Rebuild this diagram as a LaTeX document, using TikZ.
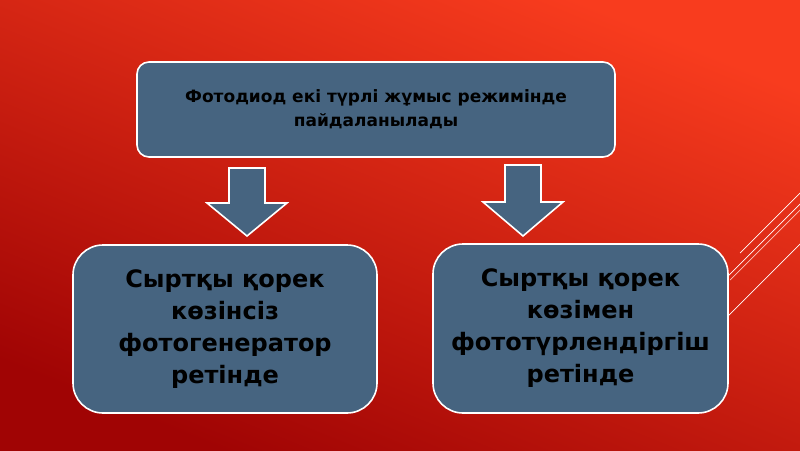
\documentclass[tikz,border=0pt]{standalone}
\usepackage{fontspec}
\setmainfont{DejaVu Sans}
\definecolor{boxblue}{RGB}{70,100,128}
\definecolor{bgtop}{RGB}{248,60,30}
\definecolor{bgmid}{RGB}{218,34,20}
\definecolor{bgbot}{RGB}{160,4,4}
\newcommand{\downblock}[4]{% x, top, shoulder, tip
  \draw[arrowblock] (#1-18,#2)--(#1+18,#2)--(#1+18,#3)--(#1+40,#3)
    --(#1,#4)--(#1-40,#3)--(#1-18,#3)--cycle;}
\begin{document}
\begin{tikzpicture}[x=1pt,y=-1pt,line width=1.6pt,line join=round,
  box/.style={draw=white,fill=boxblue,align=center,text=black,inner sep=0pt},
  arrowblock/.style={draw=white,fill=boxblue,line width=1.6pt,line join=miter},
  slice/.style={draw=white,line width=.7pt}]
  \useasboundingbox (0,0) rectangle (800,450);
  \shade[bottom color=bgbot,middle color=bgmid,top color=bgtop,shading angle=-22]
    (0,0) rectangle (800,450);
  % slice lines at the right edge
  \draw[slice] (740,253)--(806,187);
  \draw[slice] (728,276)--(806,198);
  \draw[slice,draw=white!70!bgtop] (730,280)--(806,204);
  \draw[slice] (728,316)--(806,238);
  \node[box,minimum width=478,minimum height=95,rounded corners=12,
    font=\bfseries\fontsize{17}{24}\selectfont] (top) at (376,109.5)
    {Фотодиод екі түрлі жұмыс режимінде\\пайдаланылады};
  \node[box,minimum width=304,minimum height=168,rounded corners=30,
    font=\bfseries\fontsize{24}{32}\selectfont] (left) at (225,329)
    {Сыртқы қорек\\көзінсіз\\фотогенератор\\ретінде};
  \node[box,minimum width=295,minimum height=169,rounded corners=30,
    font=\bfseries\fontsize{24}{32}\selectfont] (right) at (580.5,328.5)
    {Сыртқы қорек\\көзімен\\фототүрлендіргіш\\ретінде};
  \downblock{247}{168}{203}{236}
  \downblock{523}{165}{202}{236}
\end{tikzpicture}
\end{document}
